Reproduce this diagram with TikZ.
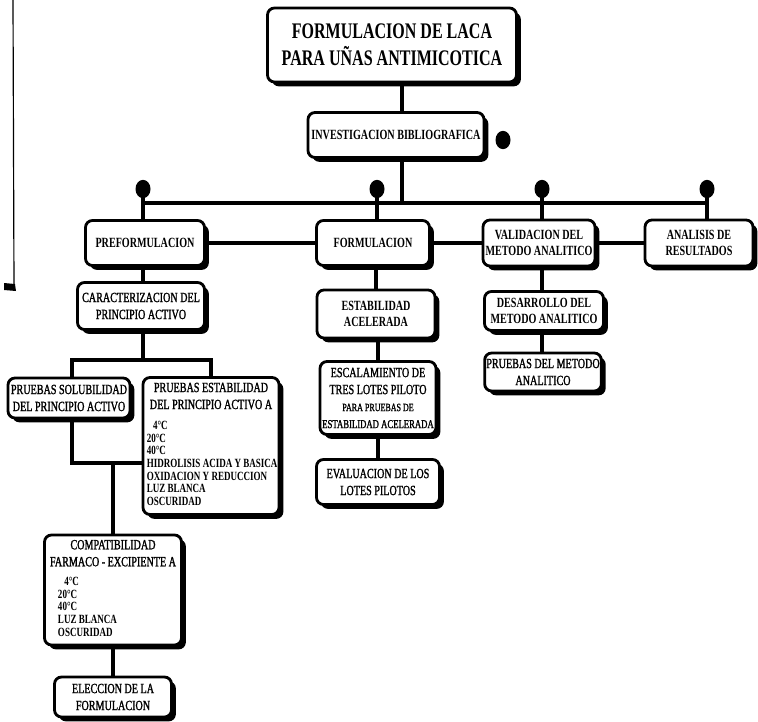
\documentclass[tikz,border=0pt]{standalone}
\usepackage{fontspec}
\setmainfont{Liberation Serif}[FakeStretch=0.72]
\newfontfamily\medio{Liberation Serif}[FakeStretch=0.72, FakeBold=1.4]
\newcommand{\lst}{\rmfamily\fontsize{10.7}{10.8}\selectfont\bfseries}
\usetikzlibrary{shadows,shapes.geometric}
\begin{document}
\begin{tikzpicture}[x=0.03cm, y=-0.03cm,
    caja/.style={draw, line width=2.4pt, rounded corners=6pt, fill=white,
      align=center, inner sep=1pt,
      drop shadow={shadow xshift=0.13cm, shadow yshift=-0.13cm, fill=black, opacity=1}},
    negrita/.style={font=\fontsize{12}{13.5}\selectfont\bfseries},
    normal/.style={font=\medio\fontsize{12}{14.5}\selectfont},
    linea/.style={line width=3.3pt},
    punto/.style={ellipse, fill=black, minimum width=0.45cm, minimum height=0.55cm, inner sep=0pt}]
  \useasboundingbox (0,0) rectangle (758,721);

  % linea del margen
  \draw[line width=1pt] (13,0) -- (14,286);
  \fill (4,283) -- (15,284) -- (16,291) -- (4,290) -- cycle;

  % titulo e investigacion
  \node[caja, minimum width=7.47cm, minimum height=2.22cm,
    font=\fontsize{19}{23}\selectfont\bfseries] (titulo) at (392,45)
    {FORMULACION DE LACA\\PARA UÑAS ANTIMICOTICA};
  \node[caja, negrita, minimum width=5.28cm, minimum height=1.35cm] (invest) at (396,135)
    {INVESTIGACION BIBLIOGRAFICA};
  \node[punto] (p0) at (503,140) {};

  % tronco y barra
  \coordinate (barra) at (402,203);
  \draw[linea] (titulo.south -| barra) -- (invest.north -| barra);
  \draw[linea] (invest.south -| barra) -- (barra);

  % etapas
  \node[caja, negrita, minimum width=3.57cm, minimum height=1.35cm] (pref) at (145,243)
    {PREFORMULACION};
  \node[caja, negrita, minimum width=3.39cm, minimum height=1.35cm] (form) at (373,243)
    {FORMULACION};
  \node[caja, negrita, minimum width=3.36cm, minimum height=1.38cm] (valid) at (539,243)
    {VALIDACION DEL\\METODO ANALITICO};
  \node[caja, negrita, minimum width=3.24cm, minimum height=1.38cm] (anal) at (699,243)
    {ANALISIS DE\\RESULTADOS};

  \node[punto] (p1) at (143,189) {};
  \node[punto] (p2) at (377,189) {};
  \node[punto] (p3) at (542,189) {};
  \node[punto] (p4) at (707,189) {};
  \draw[linea] (p1 |- barra) -- (p4 |- barra);
  \foreach \p/\n in {p1/pref, p2/form, p3/valid, p4/anal}
    \draw[linea] (\p.center) -- (\p |- \n.north);
  \draw[linea] (pref.east) -- (form.west);
  \draw[linea] (form.east) -- (valid.west);
  \draw[linea] (valid.east) -- (anal.west);

  % rama de preformulacion
  \node[caja, normal, minimum width=3.81cm, minimum height=1.41cm] (carac) at (141,306)
    {CARACTERIZACION DEL\\PRINCIPIO ACTIVO};
  \node[caja, normal, minimum width=3.66cm, minimum height=1.2cm] (solub) at (69,398)
    {PRUEBAS SOLUBILIDAD\\DEL PRINCIPIO ACTIVO};
  \node[caja, normal, minimum width=4.08cm, minimum height=4.11cm] (estab) at (211,446)
    {PRUEBAS ESTABILIDAD\\DEL PRINCIPIO ACTIVO A\\[3pt]
     \makebox[3.85cm][l]{\lst\begin{tabular}[t]{@{}l@{}}
       \hspace*{0.5em}4°C\\20°C\\40°C\\HIDROLISIS ACIDA Y BASICA\\OXIDACION Y REDUCCION\\
       LUZ BLANCA\\OSCURIDAD\end{tabular}}};
  \node[caja, normal, minimum width=4.11cm, minimum height=3.3cm] (compat) at (113,590)
    {COMPATIBILIDAD\\FARMACO - EXCIPIENTE A\\[2pt]
     \makebox[3.3cm][l]{\lst\begin{tabular}[t]{@{}l@{}}
       \hspace*{0.5em}4°C\\20°C\\40°C\\LUZ BLANCA\\OSCURIDAD\end{tabular}}};
  \node[caja, normal, minimum width=3.51cm, minimum height=1.2cm] (elec) at (113,697)
    {ELECCION DE LA\\FORMULACION};

  \coordinate (rama) at (143,360);
  \coordinate (codo) at (72,463);
  \draw[linea] (pref.south -| rama) -- (carac.north -| rama);
  \draw[linea] (carac.south -| rama) -- (rama);
  \draw[linea] (solub.north -| codo) -- (rama -| codo) -- (rama -| estab.north) -- (estab.north);
  \draw[linea] (solub.south -| codo) -- (codo) -- (codo -| estab.west);
  \draw[linea] (compat.north) -- (compat.north |- codo);
  \draw[linea] (compat.south) -- (elec.north);

  % rama de formulacion
  \node[caja, negrita, minimum width=3.54cm, minimum height=1.44cm] (estacel) at (376,314)
    {ESTABILIDAD\\ACELERADA};
  \node[caja, normal, minimum width=3.48cm, minimum height=2.19cm] (escal) at (378,398)
    {ESCALAMIENTO DE\\TRES LOTES PILOTO\\
     {\fontsize{9.5}{12}\selectfont PARA PRUEBAS DE}\\
     {\fontsize{10.3}{12}\selectfont ESTABILIDAD ACELERADA}};
  \node[caja, normal, minimum width=3.69cm, minimum height=1.35cm] (evalu) at (378,482)
    {EVALUACION DE LOS\\LOTES PILOTOS};
  \draw[linea] (estacel.north |- form.south) -- (estacel.north);
  \draw[linea] (escal.north |- estacel.south) -- (escal.north);
  \draw[linea] (escal.south) -- (evalu.north);

  % rama de validacion
  \node[caja, negrita, minimum width=3.57cm, minimum height=1.17cm] (desar) at (544,311)
    {DESARROLLO DEL\\METODO ANALITICO};
  \node[caja, normal, minimum width=3.5cm, minimum height=1.14cm] (prueb) at (543,372)
    {PRUEBAS DEL METODO\\ANALITICO};
  \draw[linea] (valid.south -| p3) -- (desar.north -| p3);
  \draw[linea] (desar.south -| p3) -- (prueb.north -| p3);
\end{tikzpicture}
\end{document}
